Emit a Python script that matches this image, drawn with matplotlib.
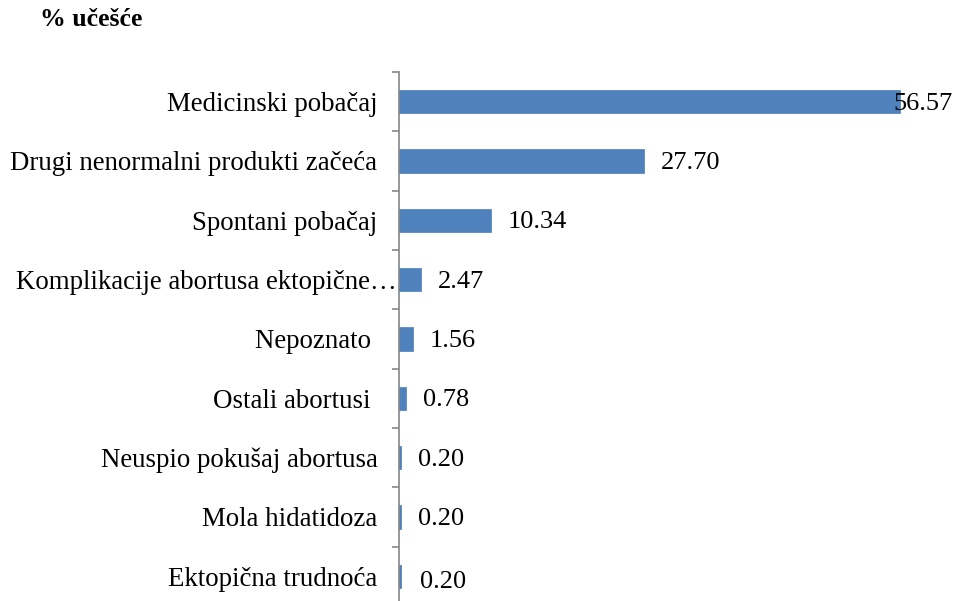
import matplotlib
matplotlib.use("Agg")
import matplotlib.pyplot as plt
import matplotlib.transforms as mtransforms
import numpy as np

categories = [
    "Medicinski pobačaj",
    "Drugi nenormalni produkti začeća",
    "Spontani pobačaj",
    "Komplikacije abortusa ektopične…",
    "Nepoznato ",
    "Ostali abortusi ",
    "Neuspio pokušaj abortusa",
    "Mola hidatidoza",
    "Ektopična trudnoća",
]
values = [56.57, 27.70, 10.34, 2.47, 1.56, 0.78, 0.20, 0.20, 0.20]
value_labels = ["56.57", "27.70", "10.34", "2.47", "1.56", "0.78", "0.20", "0.20", "0.20"]

plt.rcParams["font.family"] = ["Liberation Serif", "DejaVu Serif"]

W, H = 960, 601
fig = plt.figure(figsize=(W / 100, H / 100), dpi=100)
ax_left, ax_top, ax_bottom = 399, 72, 606
ax = fig.add_axes([ax_left / W, 1 - ax_bottom / H, (W - ax_left) / W, (ax_bottom - ax_top) / H])

n = len(categories)
y = np.arange(n)
bar_color = "#4F81BD"
ax.barh(y, values, height=0.39, color=bar_color, edgecolor="#4A7EBB", linewidth=0.5)

ax.set_ylim(n - 0.5, -0.5)
ax.set_xlim(0, (W - ax_left) / 8.856)

for s in ["top", "right", "bottom"]:
    ax.spines[s].set_visible(False)
ax.spines["left"].set_color("#868686")
ax.spines["left"].set_linewidth(1.2)
ax.set_xticks([])

ax.set_yticks(y)
ax.set_yticklabels(categories, fontsize=19.4)
ax.tick_params(axis="y", which="major", length=0, pad=15.5)
ax.set_yticks(np.arange(-0.5, n, 1.0), minor=True)
ax.tick_params(axis="y", which="minor", length=5, width=1.2, color="#868686", direction="out")

# the truncated label sits closer to the axis
for i, lbl in enumerate(ax.get_yticklabels()):
    if i == 3:
        lbl.set_transform(lbl.get_transform() + mtransforms.ScaledTranslation(19 / 100, 0, fig.dpi_scale_trans))

for i, (v, t) in enumerate(zip(values, value_labels)):
    if i == 0:
        dx, dy = -7, -2
    elif i == n - 1:
        dx, dy = 19, -6
    else:
        dx, dy = 17, -2
    ax.annotate(t, xy=(v, i), xytext=(dx * 0.72, dy * 0.72), textcoords="offset points",
                ha="left", va="center", fontsize=19)

fig.text(40 / W, 1 - 19 / H, "% učešće", fontsize=18.5, fontweight="bold", ha="left", va="center")

fig.savefig("out.png", dpi=100)
